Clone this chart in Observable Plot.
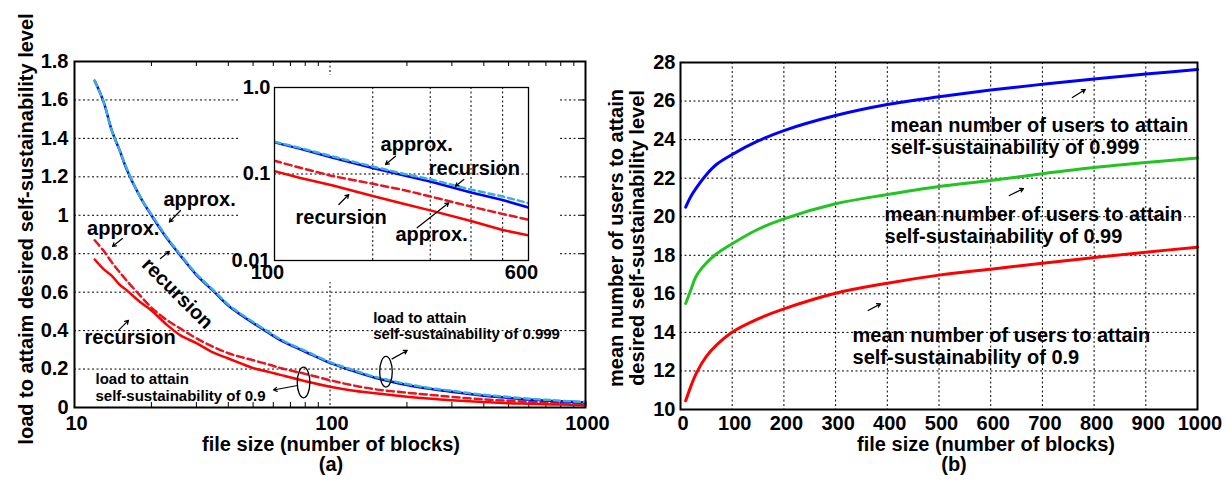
<!DOCTYPE html>
<html><head><meta charset="utf-8">
<script src="https://cdn.jsdelivr.net/npm/d3@7"></script>
<script src="https://cdn.jsdelivr.net/npm/@observablehq/plot@0.6"></script>
<style>
body{margin:0;background:#fff}
#wrap{position:relative;width:1228px;height:481px;overflow:hidden;background:#fff;font-family:"Liberation Sans",Arial,Helvetica,sans-serif;font-weight:bold;color:#000}
.abs{position:absolute}
.t{position:absolute;font-size:20px;line-height:20px;white-space:nowrap}
</style></head><body>
<div id="wrap">
  <div id="right" class="abs" style="left:600px;top:0;width:628px;height:481px"></div>
  <div id="left" class="abs" style="left:0;top:0;width:600px;height:481px"></div>
  <div id="inset" class="abs" style="left:238px;top:75px;width:320px;height:207px"></div>
  <div class="t" style="left:26px;top:229px;transform:translate(-50%,-50%) rotate(-90deg)">load to attaim desired self-sustainability level</div>
  <div class="t" style="left:627px;top:238px;line-height:21px;text-align:center;transform:translate(-50%,-50%) rotate(-90deg)">mean number of users to attain<br>desired self-sustainability level</div>
  <div class="t" style="left:331px;top:434px;transform:translateX(-50%)">file size (number of blocks)</div>
  <div class="t" style="left:331px;top:454px;transform:translateX(-50%)">(a)</div>
  <div class="t" style="left:986px;top:434px;transform:translateX(-50%)">file size (number of blocks)</div>
  <div class="t" style="left:954px;top:454px;transform:translateX(-50%)">(b)</div>
</div>
<script>
// ---------- panel (a): load vs file size ----------
const fileSizeA = [12, 13, 14, 15, 16, 18, 20, 23, 26, 30, 35, 40, 45, 50, 58, 65, 80, 100, 120, 150, 200, 250, 300, 400, 500, 600, 700, 800, 1000];
const recursion999 = [1.70, 1.59, 1.44, 1.34, 1.24, 1.10, 1.00, 0.88, 0.79, 0.69, 0.605, 0.53, 0.48, 0.44, 0.385, 0.345, 0.29, 0.232, 0.195, 0.155, 0.1175, 0.096, 0.082, 0.061, 0.050, 0.041, 0.036, 0.032, 0.026];
const approx999 = [1.70, 1.59, 1.44, 1.34, 1.245, 1.10, 1.005, 0.885, 0.795, 0.695, 0.61, 0.535, 0.485, 0.445, 0.39, 0.35, 0.295, 0.236, 0.2, 0.16, 0.122, 0.1, 0.087, 0.066, 0.055, 0.046, 0.040, 0.035, 0.029];
const recursion09 = [0.77, 0.72, 0.685, 0.64, 0.61, 0.55, 0.505, 0.43, 0.375, 0.335, 0.285, 0.255, 0.228, 0.205, 0.184, 0.167, 0.137, 0.108, 0.09, 0.074, 0.0558, 0.045, 0.038, 0.0286, 0.0225, 0.0195, 0.017, 0.015, 0.012];
const approx09 = [0.87, 0.815, 0.755, 0.705, 0.66, 0.585, 0.52, 0.455, 0.41, 0.36, 0.315, 0.282, 0.262, 0.246, 0.222, 0.203, 0.175, 0.142, 0.118, 0.095, 0.077, 0.065, 0.055, 0.042, 0.0345, 0.0296, 0.026, 0.023, 0.019];
const xTicksA = [10, 100, 1000];
const yTicksA = [0, 0.2, 0.4, 0.6, 0.8, 1, 1.2, 1.4, 1.6, 1.8];
const yGridA = [0.2, 0.4, 0.6, 0.8, 1, 1.2, 1.4, 1.6];
const minorA = [20, 30, 40, 50, 60, 70, 80, 90, 200, 300, 400, 500, 600, 700, 800, 900];

// inset
const insetXTicks = [100, 600];
const insetXGrid = [200, 300, 400, 500];
const insetYTicks = [0.01, 0.1, 1];

// annotations panel (a)
const labelsA = [
  {x: 22.3, y: 1.046, text: "approx."},
  {x: 11.2, y: 0.895, text: "approx."},
  {x: 10.94, y: 0.328, text: "recursion"}
];
const rotLabelA = [{x: 25.3, y: 0.593, text: "recursion"}];
const smallLabelsA = [
  {x: 12.08, y: 0.0364, text: "load to attain\nself-sustainability of 0.9"},
  {x: 147.6, y: 0.357, text: "load to attain\nself-sustainability of 0.999"}
];
const arrowsA = [
  {x1: 26.0, y1: 1.025, x2: 23.5, y2: 0.965},
  {x1: 15.4, y1: 0.879, x2: 14.08, y2: 0.838},
  {x1: 21.7, y1: 0.775, x2: 23.5, y2: 0.812},
  {x1: 14.86, y1: 0.401, x2: 16.27, y2: 0.453},
  {x1: 74.6, y1: 0.1145, x2: 60.1, y2: 0.091},
  {x1: 175.1, y1: 0.253, x2: 200.5, y2: 0.297}
];
const ellipsesA = [{x: 78.8, y: 0.130}, {x: 165.6, y: 0.186}];
const insetLabels = [
  {x: 211.3, y: 0.1835, text: "approx."},
  {x: 297, y: 0.0969, text: "recursion"},
  {x: 116, y: 0.0261, text: "recursion"},
  {x: 234.8, y: 0.0167, text: "approx."}
];
const insetArrows = [
  {x1: 234.8, y1: 0.1606, x2: 218.9, y2: 0.1288},
  {x1: 380.2, y1: 0.0864, x2: 358.4, y2: 0.0723},
  {x1: 157.4, y1: 0.0444, x2: 168.9, y2: 0.0579},
  {x1: 273.6, y1: 0.0239, x2: 342, y2: 0.0465}
];

// ---------- panel (b): mean number of users ----------
const fileSizeB = [10, 20, 30, 50, 70, 100, 150, 200, 300, 400, 500, 600, 700, 800, 900, 1000];
const users999 = [20.5, 21.05, 21.47, 22.18, 22.72, 23.23, 23.93, 24.47, 25.25, 25.82, 26.22, 26.57, 26.87, 27.15, 27.4, 27.64];
const users99 = [15.5, 16.2, 16.9, 17.6, 18.08, 18.6, 19.35, 19.89, 20.67, 21.15, 21.57, 21.88, 22.23, 22.55, 22.81, 23.04];
const users09 = [10.45, 11.2, 11.85, 12.75, 13.35, 14.01, 14.7, 15.22, 16.03, 16.55, 16.97, 17.28, 17.59, 17.88, 18.16, 18.42];
const xTicksB = [0, 100, 200, 300, 400, 500, 600, 700, 800, 900, 1000];
const xGridB = [100, 200, 300, 400, 500, 600, 700, 800, 900];
const yTicksB = [10, 12, 14, 16, 18, 20, 22, 24, 26, 28];
const yGridB = [12, 14, 16, 18, 20, 22, 24, 26];
const labelsB = [
  {x: 406, y: 23.25, text: "mean number of users to attain\nself-sustainability of 0.999"},
  {x: 394.6, y: 18.66, text: "mean number of users to attain\nself-sustainability of 0.99"},
  {x: 332.7, y: 12.34, text: "mean number of users to attain\nself-sustainability of 0.9"}
];
const arrowsB = [
  {x1: 758, y1: 26.18, x2: 783, y2: 26.6},
  {x1: 636, y1: 21.1, x2: 663.4, y2: 21.46},
  {x1: 363, y1: 15.14, x2: 386.8, y2: 15.48}
];

// ---------- helpers ----------
const FONT = "'Liberation Sans', Arial, Helvetica, sans-serif";
const rows = (xs, ys) => xs.map((x, i) => ({x, y: ys[i]}));
const dotted = {stroke: "#000", strokeOpacity: 1, strokeWidth: 1, strokeDasharray: "2,2.5"};
const bold = {fontSize: 20, fontWeight: "bold"};
const fmtA = d => String(+d.toFixed(1));
function ellipseSymbol(rx, ry) {
  const k = 0.5523;
  return {draw(ctx) {
    ctx.moveTo(rx, 0);
    ctx.bezierCurveTo(rx, ry * k, rx * k, ry, 0, ry);
    ctx.bezierCurveTo(-rx * k, ry, -rx, ry * k, -rx, 0);
    ctx.bezierCurveTo(-rx, -ry * k, -rx * k, -ry, 0, -ry);
    ctx.bezierCurveTo(rx * k, -ry, rx, -ry * k, rx, 0);
    ctx.closePath();
  }};
}
const styleClear = {fontFamily: FONT, fontSize: "20px", fontWeight: "bold", background: "transparent", color: "black", overflow: "visible"};
const styleWhite = {...styleClear, background: "white"};

// ---------- left plot ----------
const left = Plot.plot({
  width: 600, height: 481,
  marginLeft: 74, marginRight: 15, marginTop: 61, marginBottom: 74,
  style: styleClear,
  x: {type: "log", domain: [10, 1000]},
  y: {domain: [0, 1.8]},
  marks: [
    Plot.gridY(yGridA, dotted),
    Plot.gridX([100], dotted),
    Plot.tickX(minorA, {x: d => d, insetTop: 341, stroke: "#000"}),
    Plot.tickX(minorA, {x: d => d, insetBottom: 341, stroke: "#000"}),
    Plot.tickY(yGridA, {y: d => d, insetLeft: 506, stroke: "#000"}),
    Plot.line(rows(fileSizeA, recursion09), {x: "x", y: "y", stroke: "#ff0000", strokeWidth: 2.5, curve: "catmull-rom"}),
    Plot.line(rows(fileSizeA, approx09), {x: "x", y: "y", stroke: "#e8141e", strokeWidth: 2.5, strokeDasharray: "7,4", curve: "catmull-rom"}),
    Plot.line(rows(fileSizeA, recursion999), {x: "x", y: "y", stroke: "#0000ff", strokeWidth: 2.5, curve: "catmull-rom"}),
    Plot.line(rows(fileSizeA, approx999), {x: "x", y: "y", stroke: "#3cb0d4", strokeWidth: 2.5, strokeDasharray: "6,4", curve: "catmull-rom"}),
    Plot.axisX({ticks: xTicksA, tickFormat: d => String(d), tickSize: 0, tickPadding: 8, dx: 2, label: null, ...bold}),
    Plot.axisY({ticks: yTicksA, tickFormat: fmtA, tickSize: 0, tickPadding: 6, label: null, ...bold}),
    Plot.frame({stroke: "#000", strokeWidth: 2}),
    Plot.text(labelsA, {x: "x", y: "y", text: "text", textAnchor: "start", lineAnchor: "bottom", ...bold}),
    Plot.text(rotLabelA, {x: "x", y: "y", text: "text", textAnchor: "middle", lineAnchor: "middle", rotate: 45, ...bold}),
    Plot.text(smallLabelsA, {x: "x", y: "y", text: "text", textAnchor: "start", lineAnchor: "bottom", lineHeight: 1.07, fontSize: 15, fontWeight: "bold"}),
    Plot.arrow(arrowsA, {x1: "x1", y1: "y1", x2: "x2", y2: "y2", stroke: "#000", strokeWidth: 1.2, headLength: 5}),
    Plot.dot(ellipsesA, {x: "x", y: "y", symbol: ellipseSymbol(6.3, 15.3), stroke: "#000", fill: "none", strokeWidth: 1.3})
  ]
});
document.getElementById("left").appendChild(left);

// ---------- inset ----------
const inset = Plot.plot({
  width: 320, height: 207,
  marginLeft: 36, marginRight: 30, marginTop: 12, marginBottom: 22,
  style: styleWhite,
  x: {type: "log", domain: [100, 600]},
  y: {type: "log", domain: [0.01, 1]},
  marks: [
    Plot.gridX(insetXGrid, dotted),
    Plot.gridY([0.1], dotted),
    Plot.line(rows(fileSizeA, recursion09), {x: "x", y: "y", stroke: "#ff0000", strokeWidth: 2.5, clip: true}),
    Plot.line(rows(fileSizeA, approx09), {x: "x", y: "y", stroke: "#e8141e", strokeWidth: 2.5, strokeDasharray: "7,4", clip: true}),
    Plot.line(rows(fileSizeA, recursion999), {x: "x", y: "y", stroke: "#0000ff", strokeWidth: 2.5, clip: true}),
    Plot.line(rows(fileSizeA, approx999), {x: "x", y: "y", stroke: "#3cb0d4", strokeWidth: 2.5, strokeDasharray: "6,4", clip: true}),
    Plot.axisX({ticks: insetXTicks, tickFormat: d => String(d), tickSize: 0, tickPadding: 4, dx: -7, label: null, ...bold}),
    Plot.axisY({ticks: insetYTicks, tickFormat: d => d === 1 ? "1.0" : String(d), tickSize: 0, tickPadding: 4, label: null, ...bold}),
    Plot.frame({stroke: "#000", strokeWidth: 1.3}),
    Plot.text(insetLabels, {x: "x", y: "y", text: "text", textAnchor: "start", lineAnchor: "bottom", ...bold}),
    Plot.arrow(insetArrows, {x1: "x1", y1: "y1", x2: "x2", y2: "y2", stroke: "#000", strokeWidth: 1.2, headLength: 5})
  ]
});
document.getElementById("inset").appendChild(inset);

// ---------- right plot ----------
const right = Plot.plot({
  width: 628, height: 481,
  marginLeft: 80, marginRight: 31, marginTop: 62, marginBottom: 72,
  style: styleClear,
  x: {domain: [0, 1000]},
  y: {domain: [10, 28]},
  marks: [
    Plot.gridX(xGridB, dotted),
    Plot.gridY(yGridB, dotted),
    Plot.line(rows(fileSizeB, users09), {x: "x", y: "y", stroke: "#ff0000", strokeWidth: 3, curve: "catmull-rom"}),
    Plot.line(rows(fileSizeB, users99), {x: "x", y: "y", stroke: "#22c322", strokeWidth: 3, curve: "catmull-rom"}),
    Plot.line(rows(fileSizeB, users999), {x: "x", y: "y", stroke: "#0000ff", strokeWidth: 3, curve: "catmull-rom"}),
    Plot.axisX({ticks: xTicksB, tickFormat: d => String(d), tickSize: 0, tickPadding: 6, dx: 2.5, label: null, ...bold}),
    Plot.axisY({ticks: yTicksB, tickFormat: d => String(d), tickSize: 0, tickPadding: 5, label: null, ...bold}),
    Plot.frame({stroke: "#000", strokeWidth: 2}),
    Plot.text(labelsB, {x: "x", y: "y", text: "text", textAnchor: "start", lineAnchor: "bottom", lineHeight: 1.1, ...bold}),
    Plot.arrow(arrowsB, {x1: "x1", y1: "y1", x2: "x2", y2: "y2", stroke: "#000", strokeWidth: 1.2, headLength: 5})
  ]
});
document.getElementById("right").appendChild(right);
</script>
</body></html>
